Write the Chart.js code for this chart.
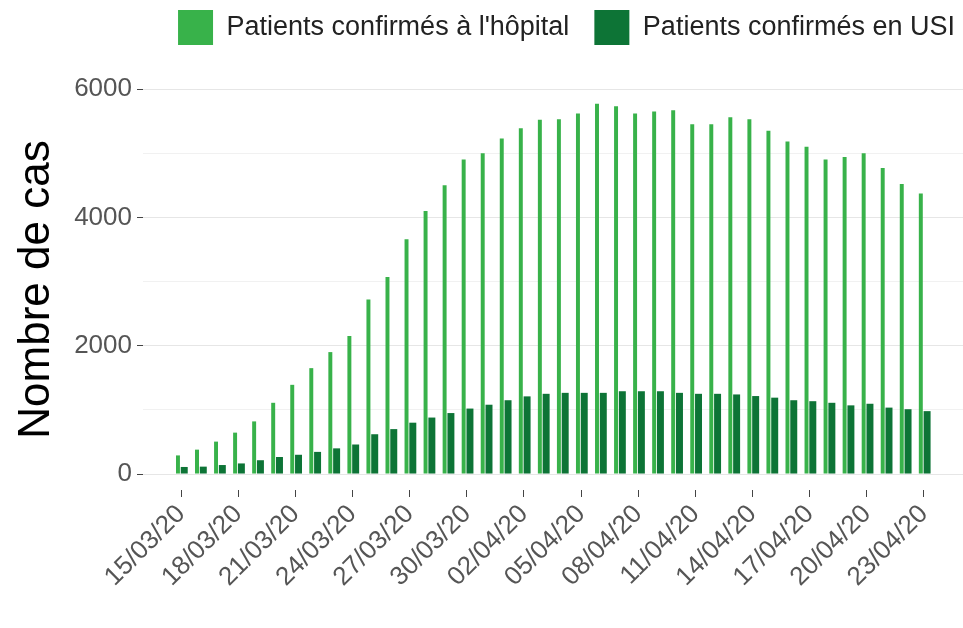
<!DOCTYPE html>
<html>
<head>
<meta charset="utf-8">
<script src="https://cdn.jsdelivr.net/npm/chart.js@4/dist/chart.umd.min.js"></script>
<style>
  html, body { margin: 0; padding: 0; background: #fff; }
  #wrap { width: 963px; height: 628px; }
</style>
</head>
<body>
<div id="wrap"><canvas id="chart" width="963" height="628"></canvas></div>
<script>
// one entry per day, 15/03/20 -> 23/04/20
const dates = [
  "15/03/20", "16/03/20", "17/03/20", "18/03/20", "19/03/20", "20/03/20", "21/03/20", "22/03/20",
  "23/03/20", "24/03/20", "25/03/20", "26/03/20", "27/03/20", "28/03/20", "29/03/20", "30/03/20",
  "31/03/20", "01/04/20", "02/04/20", "03/04/20", "04/04/20", "05/04/20", "06/04/20", "07/04/20",
  "08/04/20", "09/04/20", "10/04/20", "11/04/20", "12/04/20", "13/04/20", "14/04/20", "15/04/20",
  "16/04/20", "17/04/20", "18/04/20", "19/04/20", "20/04/20", "21/04/20", "22/04/20", "23/04/20"
];

const hopital = [
  290, 380, 505, 645, 820, 1110, 1390, 1650, 1900, 2150,
  2720, 3070, 3660, 4100, 4500, 4900, 5000, 5230, 5390, 5520,
  5530, 5620, 5770, 5730, 5620, 5650, 5670, 5450, 5450, 5560,
  5530, 5350, 5180, 5100, 4900, 4940, 5000, 4770, 4520, 4370
];

const usi = [
  110, 115, 140, 165, 215, 265, 300, 345, 400, 460,
  620, 700, 800, 880, 950, 1020, 1080, 1150, 1210, 1250,
  1265, 1265, 1265, 1290, 1290, 1290, 1265, 1250, 1250, 1240,
  1215, 1190, 1150, 1135, 1110, 1070, 1095, 1035, 1010, 980
];

// every third day gets a label
const xTicks = [0, 3, 6, 9, 12, 15, 18, 21, 24, 27, 30, 33, 36, 39];
const yTicks = [0, 1000, 2000, 3000, 4000, 5000, 6000];

const lightGreen = "#38b24a";
const darkGreen = "#0d7436";
const font = "'Liberation Sans', Arial, sans-serif";

function points(arr) {
  return arr.map((v, i) => ({ x: i, y: v }));
}

// empty layout box between the legend and the plot, so the panel starts lower
const legendGap = {
  id: "legendGap",
  beforeInit(chart) {
    Chart.layouts.addBox(chart, {
      position: "top",
      weight: 0,
      fullSize: true,
      options: {},
      isHorizontal: () => true,
      update(maxWidth) { this.width = maxWidth; this.height = 34; },
      draw() {}
    });
  }
};

new Chart(document.getElementById("chart"), {
  type: "bar",
  data: {
    datasets: [
      {
        label: "Patients confirmés à l'hôpital",
        data: points(hopital),
        backgroundColor: lightGreen,
        borderWidth: 0,
        categoryPercentage: 0.66,
        barPercentage: 0.63
      },
      {
        label: "Patients confirmés en USI",
        data: points(usi),
        backgroundColor: darkGreen,
        borderWidth: 0,
        categoryPercentage: 0.66,
        barPercentage: 1.11
      }
    ]
  },
  plugins: [legendGap],
  options: {
    responsive: false,
    animation: false,
    layout: { padding: { left: 0, right: -17, top: -15, bottom: 0 } },
    plugins: {
      tooltip: { enabled: false },
      legend: {
        position: "top",
        align: "end",
        labels: {
          boxWidth: 35,
          boxHeight: 35,
          padding: 25,
          color: "#222",
          font: { family: font, size: 27 }
        }
      }
    },
    scales: {
      x: {
        type: "linear",
        min: -2,
        max: 41.05,
        offset: false,
        afterBuildTicks: axis => { axis.ticks = xTicks.map(v => ({ value: v })); },
        afterFit: axis => { axis.height = 138; },
        border: { display: false },
        grid: {
          offset: false,
          drawOnChartArea: false,
          drawTicks: true,
          tickLength: 7,
          tickColor: "#444"
        },
        ticks: {
          autoSkip: false,
          minRotation: 45,
          maxRotation: 45,
          padding: 2,
          color: "#555",
          font: { family: font, size: 26 },
          callback: v => dates[v]
        }
      },
      y: {
        min: -249,
        max: 6000,
        afterBuildTicks: axis => { axis.ticks = yTicks.map(v => ({ value: v })); },
        afterFit: axis => { axis.width = 143; },
        border: { display: false },
        grid: {
          color: ctx => (ctx.tick && ctx.tick.value % 2000 === 0) ? "#e6e6e6" : "#f1f1f1",
          lineWidth: 1,
          drawTicks: true,
          tickLength: 6,
          tickColor: ctx => (ctx.tick && ctx.tick.value % 2000 === 0) ? "#444" : "rgba(0,0,0,0)"
        },
        ticks: {
          padding: 5,
          color: "#555",
          font: { family: font, size: 26 },
          callback: v => (v % 2000 === 0 ? String(v) : "")
        },
        title: {
          display: true,
          text: "Nombre de cas",
          color: "#000",
          font: { family: font, size: 44 },
          padding: { top: 10, bottom: 0 }
        }
      }
    }
  }
});
</script>
</body>
</html>
